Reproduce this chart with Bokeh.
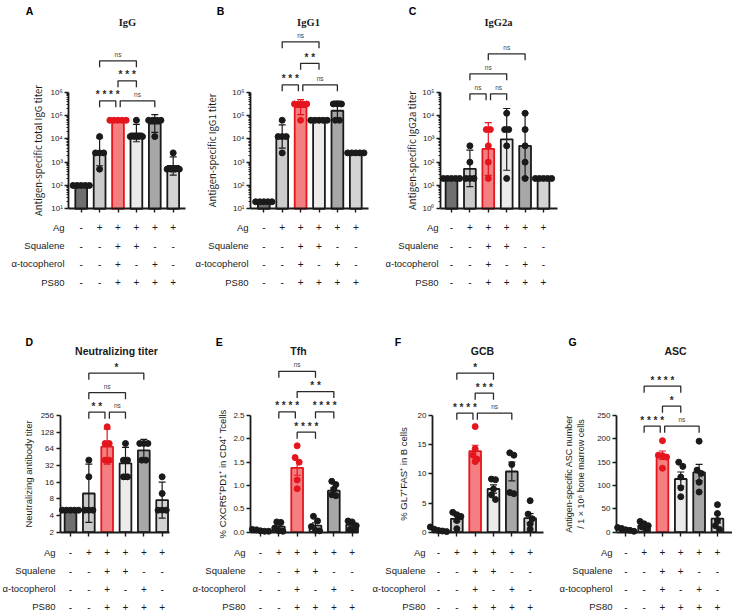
import math
from bokeh.plotting import figure
from bokeh.layouts import column, row
from bokeh.models import Range1d, LinearScale, FixedTicker, LinearAxis, LogAxis, Grid
from bokeh.core.properties import value
from bokeh.embed import file_html
from bokeh.resources import INLINE

nan = float("nan")
SANS = "Liberation Sans"
SERIF = "Liberation Serif"
CJK = "Noto Sans CJK JP"
INK = "#1a1a1a"
RED = "#e5151e"

# ---------------- shared table / styling ----------------
ROW_LABELS = ["Ag", "Squalene", "α-tocopherol", "PS80"]
SIGNS = [
    ["-", "+", "+", "+", "+", "+"],
    ["-", "-", "+", "+", "-", "-"],
    ["-", "-", "+", "-", "+", "-"],
    ["-", "-", "+", "+", "+", "+"],
]
BAR_FILL = ["#6f6f6f", "#cbcbcb", "#f37f80", "#ebebeb", "#a7a7a7", "#d3d3d3"]
BAR_LINE = [INK, INK, RED, INK, INK, INK]
DOT_COLOR = [INK, INK, RED, INK, INK, INK]

# ---------------- A: IgG ----------------
igg_mean = [100, 2600, 62500, 17000, 45000, 690]
igg_lo = [nan, 700, nan, 7500, 19000, 280]
igg_hi = [nan, 11000, nan, 42000, 110000, 1700]
igg_dots = [[100, 100, 100, 100, 100],
            [12500, 2500, 2500, 2500, 500],
            [62500, 62500, 62500, 62500, 62500],
            [62500, 12500, 12500, 12500, 12500],
            [62500, 62500, 62500, 62500, 12500],
            [2500, 500, 500, 500, 500]]
igg_sig = [(1, 3, 2, "ns", 0, 0), (2, 3, 1, "* * *", 0, 0),
           (1, 2, 0, "* * * *", 0, 0.12), (2, 4, 0, "ns", 0.12, 0)]

# ---------------- B: IgG1 ----------------
igg1_mean = [20, 12500, 230000, 62500, 160000, 2500]
igg1_lo = [nan, 4000, 110000, nan, 62500, nan]
igg1_hi = [nan, 40000, 480000, nan, 420000, nan]
igg1_dots = [[20, 20, 20, 20, 20],
             [62500, 12500, 12500, 12500, 2500],
             [312500, 312500, 312500, 312500, 62500],
             [62500, 62500, 62500, 62500, 62500],
             [312500, 312500, 312500, 62500, 62500],
             [2500, 2500, 2500, 2500, 2500]]
igg1_sig = [(1, 3, 2, "ns", 0, 0), (2, 3, 1, "* *", 0, 0),
            (1, 2, 0, "* * *", 0, 0.12), (2, 4, 0, "ns", 0.12, 0)]

# ---------------- C: IgG2a ----------------
igg2a_mean = [20, 52, 370, 950, 500, 20]
igg2a_lo = [nan, 9, 27, 45, 22, nan]
igg2a_hi = [nan, 330, 5000, 20000, 12500, nan]
igg2a_dots = [[20, 20, 20, 20, 20],
              [500, 100, 20, 20, 20],
              [2500, 2500, 500, 100, 20],
              [12500, 2500, 2500, 500, 20],
              [12500, 2500, 500, 100, 20],
              [20, 20, 20, 20, 20]]
igg2a_sig = [(2, 4, 2, "ns", 0, 0), (1, 3, 1, "ns", 0, 0),
             (1, 2, 0, "ns", 0, 0.12), (2, 3, 0, "ns", 0.12, 0)]

# ---------------- D: Neutralizing titer ----------------
neut_mean = [5, 10, 70, 35, 60, 7.6]
neut_lo = [nan, 3, 34, 18, 38, 3.6]
neut_hi = [nan, 34, 145, 68, 95, 16]
neut_dots = [[5, 5, 5, 5, 5],
             [40, 20, 5, 5, 5],
             [160, 80, 80, 40, 40],
             [80, 40, 40, 20, 20],
             [80, 80, 80, 40, 40],
             [20, 10, 5, 5, 5]]
neut_sig = [(1, 4, 2, "*", 0, 0), (1, 3, 1, "ns", 0, 0),
            (1, 2, 0, "* *", 0, 0.12), (2, 3, 0, "ns", 0.12, 0)]

# ---------------- E: Tfh ----------------
tfh_mean = [0.04, 0.12, 1.38, 0.14, 0.89, 0.16]
tfh_sem = [0.01, 0.035, 0.16, 0.06, 0.06, 0.03]
tfh_dots = [[0.06, 0.05, 0.03, 0.02, 0.02],
            [0.22, 0.21, 0.09, 0.03, 0.02],
            [1.85, 1.60, 1.50, 1.12, 0.93],
            [0.34, 0.24, 0.12, 0.04, 0.03],
            [1.09, 1.02, 0.92, 0.80, 0.78],
            [0.24, 0.22, 0.14, 0.06, 0.06]]
tfh_sig = [(1, 3, 3, "ns", 0, 0), (2, 4, 2, "* *", 0, 0),
           (1, 2, 1, "* * * *", 0, 0.1), (3, 4, 1, "* * * *", 0, 0),
           (2, 3, 0, "* * * *", 0, 0)]

# ---------------- F: GCB ----------------
gcb_mean = [0.4, 2.3, 13.9, 7.4, 10.4, 2.4]
gcb_sem = [0.15, 0.5, 1.0, 0.7, 1.6, 0.8]
gcb_dots = [[0.9, 0.5, 0.3, 0.2, 0.1],
            [3.4, 3.0, 2.7, 2.0, 0.6],
            [18.1, 14.3, 13.2, 12.5, 12.1],
            [9.1, 9.0, 7.4, 6.4, 5.6],
            [13.6, 13.2, 11.6, 6.8, 6.6],
            [5.4, 3.1, 2.3, 1.4, 0.5]]
gcb_sig = [(1, 3, 2, "*", 0, 0), (2, 3, 1, "* * *", 0, 0),
           (1, 2, 0, "* * * *", 0, 0.12), (2, 4, 0, "ns", 0.12, 0)]

# ---------------- G: ASC ----------------
asc_mean = [6, 14.5, 165, 114, 128, 29]
asc_sem = [1.5, 2.8, 9, 15, 17.5, 9.5]
asc_dots = [[10, 8, 5, 4, 2],
            [23, 18, 14, 11, 7],
            [196, 165, 164, 161, 137],
            [150, 141, 118, 95, 76],
            [195, 133, 126, 107, 86],
            [59, 40, 25, 14, 6]]
asc_sig = [(1, 3, 2, "* * * *", 0, 0), (2, 3, 1, "*", 0, 0),
           (1, 2, 0, "* * * *", 0, 0.12), (2, 4, 0, "ns", 0.12, 0)]

LOG10_LABELS = {0: "10⁰", 1: "10¹", 2: "10²", 3: "10³", 4: "10⁴", 5: "10⁵", 6: "10⁶"}


def with_sem(mean, sem):
    return ([m - s for m, s in zip(mean, sem)], [m + s for m, s in zip(mean, sem)])


# row geometry (pixels measured from the top of the row's figures)
TOP = dict(sp=18.4, H=300, base_y=208.3, ax_px=116.6, letter_y=10.0, title_y=21.5,
           rows=[226.7, 245.0, 263.3, 281.7],
           title_font=SERIF, title_size="10.5px", label_font=CJK, label_size="9.5px")
BOT = dict(sp=18.33, H=312, base_y=231.7, ax_px=116.7, letter_y=41.7, title_y=50.5,
           rows=[251.7, 270.0, 288.3, 306.0],
           title_font=SANS, title_size="10.5px", label_font=SANS, label_size="9.5px")

e_lo, e_hi = with_sem(tfh_mean, tfh_sem)
f_lo, f_hi = with_sem(gcb_mean, gcb_sem)
g_lo, g_hi = with_sem(asc_mean, asc_sem)

PANELS_TOP = [
    dict(letter="A", title="IgG", scale="log", ymin=10, ytop=1e6, exps=[1, 2, 3, 4, 5, 6],
         ylabel="Antigen-specific total IgG titer", mean=igg_mean, lo=igg_lo, hi=igg_hi,
         dots=igg_dots, sig=igg_sig, pw=190, axl=68.3, fw=116.7, gap=12.4, letter_x=29,
         title_x=127, label_right=64, lab_so=2, h0=108, step=20),
    dict(letter="B", title="IgG1", scale="log", ymin=10, ytop=1e6, exps=[1, 2, 3, 4, 5, 6],
         ylabel="Antigen-specific IgG1 titer", mean=igg1_mean, lo=igg1_lo, hi=igg1_hi,
         dots=igg1_dots, sig=igg1_sig, pw=187, axl=60, fw=118.3, gap=13.3, letter_x=30,
         title_x=118, label_right=58, lab_so=10, h0=124, step=21.5),
    dict(letter="C", title="IgG2a", scale="log", ymin=1, ytop=1e5, exps=[0, 1, 2, 3, 4, 5],
         ylabel="Antigen-specific IgG2a titer", mean=igg2a_mean, lo=igg2a_lo, hi=igg2a_hi,
         dots=igg2a_dots, sig=igg2a_sig, pw=355, axl=63, fw=116.7, gap=11.0, letter_x=35,
         title_x=121, label_right=61, lab_so=0, h0=115, step=20),
]
PANELS_BOT = [
    dict(letter="D", title="Neutralizing titer", scale="log2", ymin=2, ytop=256,
         ticks=[2, 4, 8, 16, 32, 64, 128, 256],
         ylabel="Neutralizing antibody titer", mean=neut_mean, lo=neut_lo, hi=neut_hi,
         dots=neut_dots, sig=neut_sig, pw=190, axl=59.5, fw=109, gap=10.5, letter_x=28.8,
         title_x=116, label_right=55, lab_so=4, h0=120, step=19.5),
    dict(letter="E", title="Tfh", scale="lin", ymin=0, ytop=2.5,
         ticks=[0, 0.5, 1.0, 1.5, 2.0, 2.5], labels=["0.0", "0.5", "1.0", "1.5", "2.0", "2.5"],
         ylabel="% CXCR5⁺PD1⁺ in CD4⁺ Tcells", mean=tfh_mean, lo=e_lo, hi=e_hi,
         dots=tfh_dots, sig=tfh_sig, pw=180, axl=60, fw=108, gap=10.0, letter_x=28.7,
         title_x=108, label_right=55, lab_so=2, h0=100, step=20.3),
    dict(letter="F", title="GCB", scale="lin", ymin=0, ytop=20,
         ticks=[0, 5, 10, 15, 20], labels=["0", "5", "10", "15", "20"],
         ylabel="% GL7⁺FAS⁺ in B cells", mean=gcb_mean, lo=f_lo, hi=f_hi,
         dots=gcb_dots, sig=gcb_sig, pw=178, axl=62, fw=110.7, gap=6, letter_x=27.5,
         title_x=112, label_right=55, lab_so=6, h0=119, step=20),
    dict(letter="G", title="ASC", scale="lin", ymin=0, ytop=250,
         ticks=[0, 50, 100, 150, 200, 250], labels=["0", "50", "100", "150", "200", "250"],
         ylabel="Antigen-specific ASC number\n/ 1 × 10⁶ bone marrow cells", mean=asc_mean,
         lo=g_lo, hi=g_hi, dots=asc_dots, sig=asc_sig, pw=184, axl=68, fw=116, gap=9.3,
         letter_x=24, title_x=127, label_right=64, lab_so=8, h0=106, step=20),
]


def swarm(vals, to_px, sp, d):
    order = sorted(range(len(vals)), key=lambda k: -vals[k])
    rows_, cur = [], []
    for k in order:
        if cur and abs(to_px(vals[cur[0]]) - to_px(vals[k])) > 0.85 * d:
            rows_.append(cur)
            cur = []
        cur.append(k)
    if cur:
        rows_.append(cur)
    off = [0.0] * len(vals)
    stepx = 0.68 * d
    for r in rows_:
        n = len(r)
        for j, k in enumerate(r):
            off[k] = (j - (n - 1) / 2) * stepx / sp
    return off


def make_panel(c, R):
    pw, axl, fw, sp = c["pw"], c["axl"], c["fw"], R["sp"]
    x_start = -c["gap"] / sp              # data x of the y axis
    x_end = x_start + fw / sp             # end of the x axis line
    H, base, axp = R["H"], R["base_y"], R["ax_px"]
    up, down = base, H - base             # pixels above / below the baseline
    t0 = x_start - axl / sp               # data x at the panel's left edge
    px_to_x = lambda px: t0 + px / sp
    py = lambda y_from_top: base - y_from_top   # pixel height above baseline

    scale = c["scale"]
    if scale in ("log", "log2"):
        lmin, ltop = math.log10(c["ymin"]), math.log10(c["ytop"])
        k = (ltop - lmin) / axp
        y0, y1 = 10 ** (lmin - down * k), 10 ** (lmin + up * k)
        to_px = lambda v: (math.log10(v) - lmin) / k
        ytype = "log"
    else:
        k = (c["ytop"] - c["ymin"]) / axp
        y0, y1 = c["ymin"] - down * k, c["ymin"] + up * k
        to_px = lambda v: (v - c["ymin"]) / k
        ytype = "linear"

    p = figure(width=pw, height=H, x_range=Range1d(t0, t0 + pw / sp),
               y_range=Range1d(y0, y1), y_axis_type=ytype,
               x_axis_location=None, y_axis_location=None,
               toolbar_location=None, tools="", output_backend="svg", title=None,
               min_border=0, outline_line_color=None)
    p.background_fill_color = "white"
    p.border_fill_color = "white"
    for g in p.select(type=Grid):
        g.visible = False
    # pixel-height range measured upward from the baseline (brackets and texts)
    p.extra_y_ranges = {"px": Range1d(-down, up)}
    p.extra_y_scales = {"px": LinearScale()}

    # y axis pinned at the left end of the bars
    if scale == "log":
        ticks = [10.0 ** e for e in c["exps"]]
        minor = [m * 10.0 ** e for e in c["exps"][:-1] for m in range(2, 10)]
        ya = LogAxis(ticker=FixedTicker(ticks=ticks, minor_ticks=minor))
        ya.major_label_overrides = {t: LOG10_LABELS[e] for t, e in zip(ticks, c["exps"])}
        ya.minor_tick_out = 2
        ya.minor_tick_in = 0
        ya.minor_tick_line_width = 1
        ya.minor_tick_line_color = INK
    elif scale == "log2":
        ticks = c["ticks"]
        ya = LogAxis(ticker=FixedTicker(ticks=ticks))
        ya.major_label_overrides = {t: str(t) for t in ticks}
        ya.minor_tick_line_color = None
    else:
        ticks = c["ticks"]
        ya = LinearAxis(ticker=FixedTicker(ticks=ticks))
        ya.major_label_overrides = {t: l for t, l in zip(ticks, c["labels"])}
        ya.minor_tick_line_color = None
    ya.fixed_location = x_start
    ya.bounds = (c["ymin"], c["ytop"])
    ya.axis_line_width = 1.8
    ya.axis_line_color = INK
    ya.major_tick_out = 4
    ya.major_tick_in = 0
    ya.major_tick_line_width = 1.4
    ya.major_tick_line_color = INK
    ya.major_label_text_font = SANS
    ya.major_label_text_font_size = "8px"
    ya.major_label_text_color = INK
    ya.major_label_standoff = 2
    ya.axis_label = c["ylabel"]
    ya.axis_label_text_font = R["label_font"]
    ya.axis_label_text_font_size = "9px" if "\n" in c["ylabel"] else R["label_size"]
    ya.axis_label_text_font_style = "normal"
    ya.axis_label_text_color = INK
    ya.axis_label_standoff = c["lab_so"]
    p.add_layout(ya, "left")

    # x axis pinned at the baseline (ticks only)
    xa = LinearAxis(ticker=FixedTicker(ticks=[0, 1, 2, 3, 4, 5]))
    xa.fixed_location = c["ymin"]
    xa.bounds = (x_start, x_end)
    xa.major_label_text_color = None
    xa.major_label_standoff = 0
    xa.major_tick_out = 4
    xa.major_tick_in = 0
    xa.major_tick_line_width = 1.4
    xa.major_tick_line_color = INK
    xa.minor_tick_line_color = None
    xa.axis_line_width = 1.8
    xa.axis_line_color = INK
    p.add_layout(xa, "below")

    idx = [0, 1, 2, 3, 4, 5]
    p.vbar(x=idx, top=c["mean"], bottom=c["ymin"], width=0.64, fill_color=BAR_FILL,
           line_color=BAR_LINE, line_width=1.8)

    # error bars
    ex0, ey0, ex1, ey1, ecol = [], [], [], [], []
    for i in idx:
        lo, hi = c["lo"][i], c["hi"][i]
        if lo != lo or hi != hi:
            continue
        col = BAR_LINE[i]
        ex0 += [i, i - 0.19, i - 0.19]
        ex1 += [i, i + 0.19, i + 0.19]
        ey0 += [lo, lo, hi]
        ey1 += [hi, lo, hi]
        ecol += [col, col, col]
    p.segment(x0=ex0, y0=ey0, x1=ex1, y1=ey1, line_color=ecol, line_width=1.2)

    # dots
    d = 6.0
    dx, dy, dc = [], [], []
    for i in idx:
        vals = c["dots"][i]
        offs = swarm(vals, to_px, sp, d)
        for v, o in zip(vals, offs):
            dx.append(i + o)
            dy.append(v)
            dc.append(DOT_COLOR[i])
    p.scatter(x=dx, y=dy, size=d, marker="circle", fill_color=dc, line_color=dc)

    # significance brackets
    bxs, bys, tx, ty, tt, nx, ny, nt = [], [], [], [], [], [], [], []
    for (i, j, lev, lab, tl, tr) in c["sig"]:
        yt = c["h0"] + lev * c["step"]
        x0, x1 = i + tl, j - tr
        bxs.append([x0, x0, x1, x1])
        bys.append([yt - 6.5, yt, yt, yt - 6.5])
        if lab == "ns":
            nx.append((x0 + x1) / 2); ny.append(yt + 3); nt.append(lab)
        else:
            tx.append((x0 + x1) / 2); ty.append(yt + 0.5); tt.append(lab)
    p.multi_line(xs=bxs, ys=bys, y_range_name="px", line_color="#2a2a2a", line_width=1.3)
    p.text(x=tx, y=ty, text=tt, y_range_name="px", text_font=value(SANS),
           text_font_style="bold", text_font_size="10px", text_align="center",
           text_baseline="bottom", text_color="#2a2a2a")
    p.text(x=nx, y=ny, text=nt, y_range_name="px", text_font=value(SANS),
           text_font_size="6.5px", text_align="center", text_baseline="bottom",
           text_color="#444444")

    # header: panel letter + title
    p.text(x=[px_to_x(c["letter_x"])], y=[py(R["letter_y"])], text=[c["letter"]],
           y_range_name="px", text_font=value(SANS), text_font_style="bold",
           text_font_size="10.5px", text_align="center", text_baseline="alphabetic",
           text_color="black")
    p.text(x=[px_to_x(c["title_x"])], y=[py(R["title_y"])], text=[c["title"]],
           y_range_name="px", text_font=value(R["title_font"]), text_font_style="bold",
           text_font_size=R["title_size"], text_align="center", text_baseline="alphabetic",
           text_color=INK)

    # +/- table below the baseline
    sx, sy, st = [], [], []
    for r, yrow in enumerate(R["rows"]):
        for i in idx:
            sx.append(i); sy.append(py(yrow)); st.append(SIGNS[r][i])
    p.text(x=sx, y=sy, text=st, y_range_name="px", text_font=value(SANS),
           text_font_size="10px", text_align="center", text_baseline="middle",
           text_color=INK)
    lx = px_to_x(c["label_right"])
    p.text(x=[lx] * 4, y=[py(yr) for yr in R["rows"]], text=ROW_LABELS, y_range_name="px",
           text_font=value(SANS), text_font_size="9.5px", text_align="right",
           text_baseline="middle", text_color=INK)
    return p


top = row(*[make_panel(c, TOP) for c in PANELS_TOP], spacing=0)
bot = row(*[make_panel(c, BOT) for c in PANELS_BOT], spacing=0)
layout = column(top, bot, spacing=0)

open("out.html", "w").write(file_html(layout, INLINE))
